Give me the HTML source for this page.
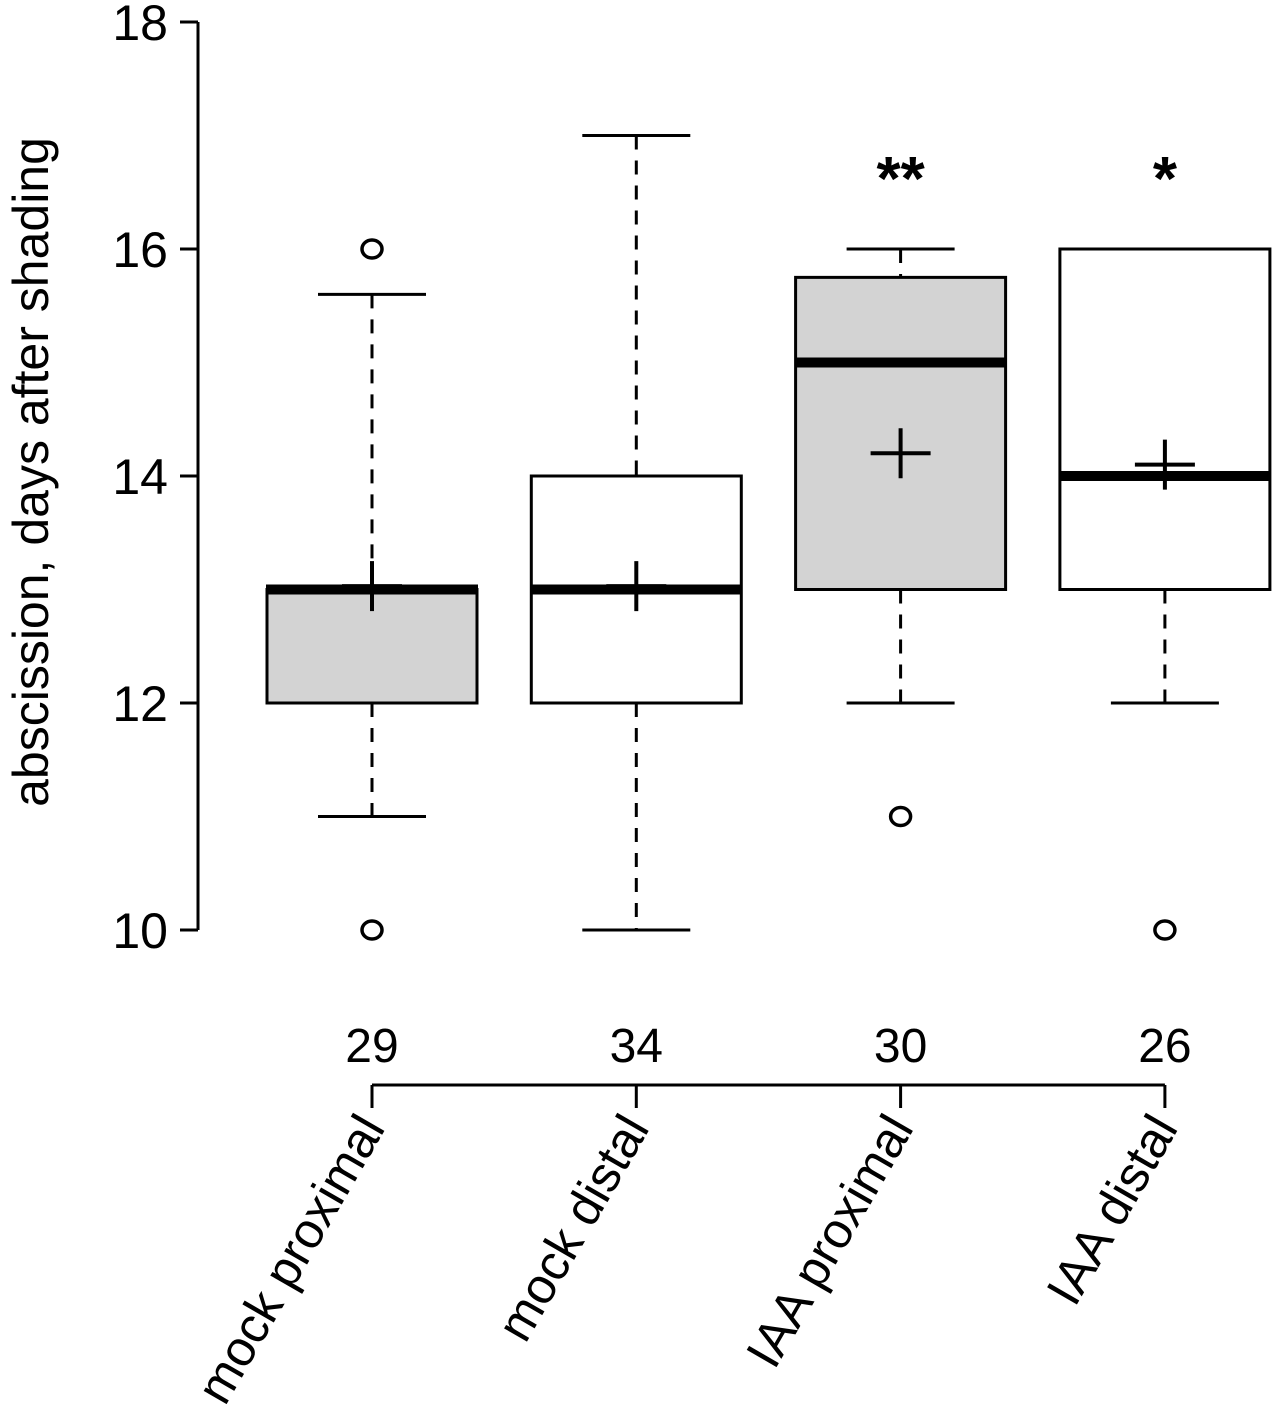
<!DOCTYPE html>
<html><head><meta charset="utf-8"><style>
body{margin:0;background:#fff}
svg text{font-family:"Liberation Sans",sans-serif;fill:#000}
</style></head><body>
<svg id="chart" width="1280" height="1422" viewBox="0 0 1280 1422" xmlns="http://www.w3.org/2000/svg">
<g id="yaxis"></g>
<text transform="translate(48,472) rotate(-90)" text-anchor="middle" font-size="50">abscission, days after shading</text>
<g id="boxes"></g>
<g id="xaxis"></g>
</svg>
<script>
const categories=["mock proximal","mock distal","IAA proximal","IAA distal"];
const counts=["29","34","30","26"];
const q1=[12,12,13,13];
const q3=[13,14,15.75,16];
const medians=[13,13,15,14];
const whiskLo=[11,10,12,12];
const whiskHi=[15.6,17,16,16];
const means=[13.03,13.03,14.2,14.1];
const outliers=[[16,10],[],[11],[10]];
const signif=["","","**","*"];
const fills=["#d3d3d3","#ffffff","#d3d3d3","#ffffff"];
const yTicks=[10,12,14,16,18];

const NS="http://www.w3.org/2000/svg";
const y=v=>930-(v-10)*113.5;
const x=i=>372+i*264.3;
function mk(p,t,a){const e=document.createElementNS(NS,t);for(const k in a)e.setAttribute(k,a[k]);p.appendChild(e);return e;}
const ya=document.getElementById('yaxis');
let l=mk(ya,'line',{x1:198,x2:198,y1:y(10),y2:y(18),stroke:'#000','stroke-width':3});


yTicks.forEach(v=>{
  let t=mk(ya,'line',{x1:180,x2:198,y1:y(v),y2:y(v),stroke:'#000','stroke-width':3});
  
  
  let tx=mk(ya,'text',{x:168,y:y(v)+18,'text-anchor':'end','font-size':50});
  tx.textContent=v;
  
  
});
const bx=document.getElementById('boxes');
categories.forEach((c,i)=>{
  const cx=x(i);
  const g=mk(bx,'g',{});
  
  
  mk(g,'line',{x1:cx,x2:cx,y1:y(whiskHi[i]),y2:y(q3[i]),stroke:'#000','stroke-width':3,'stroke-dasharray':'14,11'});
  mk(g,'line',{x1:cx,x2:cx,y1:y(q1[i]),y2:y(whiskLo[i]),stroke:'#000','stroke-width':3,'stroke-dasharray':'14,11'});
  mk(g,'line',{x1:cx-54,x2:cx+54,y1:y(whiskHi[i]),y2:y(whiskHi[i]),stroke:'#000','stroke-width':3});
  mk(g,'line',{x1:cx-54,x2:cx+54,y1:y(whiskLo[i]),y2:y(whiskLo[i]),stroke:'#000','stroke-width':3});
  mk(g,'rect',{x:cx-105,y:y(q3[i]),width:210,height:y(q1[i])-y(q3[i]),fill:fills[i],stroke:'#000','stroke-width':3});
  mk(g,'line',{x1:cx-106,x2:cx+106,y1:y(medians[i]),y2:y(medians[i]),stroke:'#000','stroke-width':10});
  mk(g,'line',{x1:cx-30,x2:cx+30,y1:y(means[i]),y2:y(means[i]),stroke:'#000','stroke-width':4});
  mk(g,'line',{x1:cx,x2:cx,y1:y(means[i])-25,y2:y(means[i])+25,stroke:'#000','stroke-width':4});
  outliers[i].forEach(o=>mk(g,'ellipse',{cx:cx,cy:y(o),rx:10,ry:9,fill:'none',stroke:'#000','stroke-width':3.5}));
  if(signif[i]){let s=mk(g,'text',{x:cx,y:200,'text-anchor':'middle','font-size':62,'font-weight':'bold'});s.textContent=signif[i];
    
    }
});
const xa=document.getElementById('xaxis');
mk(xa,'line',{x1:x(0),x2:x(3),y1:1085,y2:1085,stroke:'#000','stroke-width':3});
categories.forEach((c,i)=>{
  const cx=x(i);
  mk(xa,'line',{x1:cx,x2:cx,y1:1085,y2:1108,stroke:'#000','stroke-width':3});
  let n=mk(xa,'text',{x:cx,y:1062,'text-anchor':'middle','font-size':48});n.textContent=counts[i];
  
  
  let t=mk(xa,'text',{transform:`translate(${cx+14},1128) rotate(-60)`,'text-anchor':'end','font-size':50});t.textContent=c;
  
  
});
</script>
</body></html>
